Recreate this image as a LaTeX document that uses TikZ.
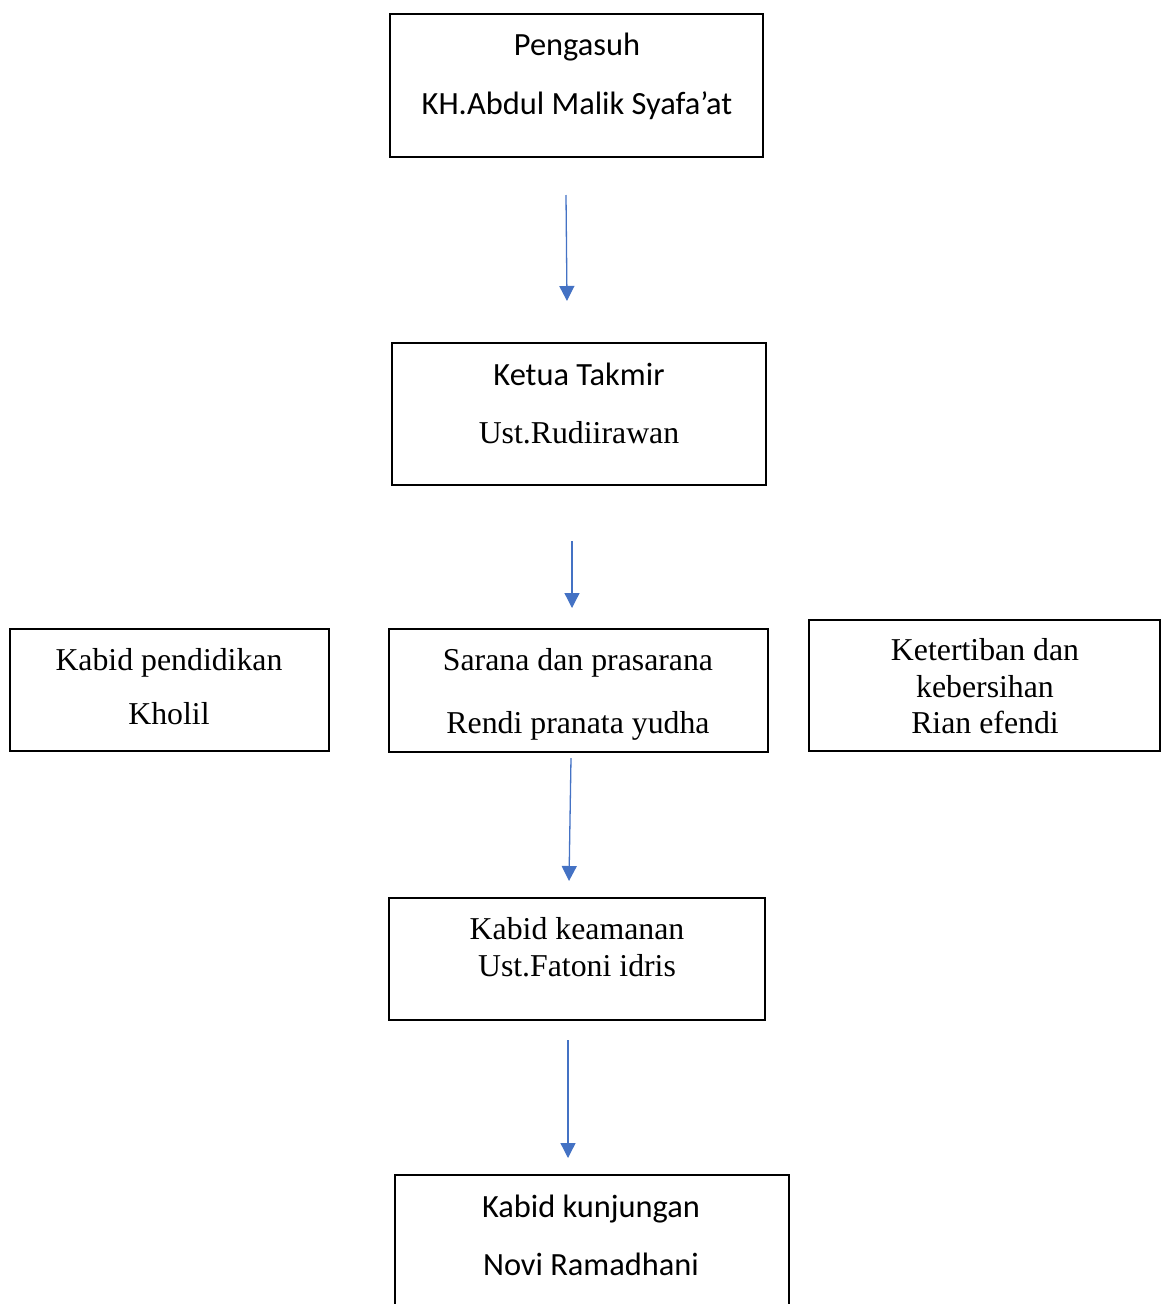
\documentclass[tikz,border=0pt]{standalone}
\usepackage{fontspec}
\setmainfont{Liberation Serif}
\newfontfamily\calfont{Carlito}
\usetikzlibrary{arrows.meta}
\definecolor{arrblue}{HTML}{4472C4}
\begin{document}
\begin{tikzpicture}[x=1pt,y=-1pt,
  box/.style={draw=black,line width=1.1pt},
  tcal/.style={font=\calfont\fontsize{32.4}{36}\selectfont,inner sep=0pt,anchor=base},
  ttim/.style={font=\fontsize{31.8}{36}\selectfont,inner sep=0pt,anchor=base},
  conn/.style={draw=arrblue,line width=1.3pt,-{Triangle[width=15pt,length=15pt]}}]
\useasboundingbox (0,0) rectangle (1162,1304);
\draw[box] (390,14) rectangle (763,157);
\draw[box] (392,343) rectangle (766,485);
\draw[box] (10,629) rectangle (329,751);
\draw[box] (389,629) rectangle (768,752);
\draw[box] (809,620) rectangle (1160,751);
\draw[box] (389,898) rectangle (765,1020);
\draw[box] (395,1175) rectangle (789,1320);
\node[tcal] (t1a) at (577,55) {Pengasuh};
\node[tcal] (t1b) at (577,114) {KH.Abdul Malik Syafa’at};
\node[tcal] (t2a) at (579,385) {Ketua Takmir};
\node[ttim] (t2b) at (579,443) {Ust.Rudiirawan};
\node[ttim] (t3a) at (169,670) {Kabid pendidikan};
\node[ttim] (t3b) at (169,724) {Kholil};
\node[ttim] (t4a) at (578,670) {Sarana dan prasarana};
\node[ttim] (t4b) at (578,733) {Rendi pranata yudha};
\node[ttim] (t5a) at (985,660) {Ketertiban dan};
\node[ttim] (t5b) at (985,697) {kebersihan};
\node[ttim] (t5c) at (985,733) {Rian efendi};
\node[ttim] (t6a) at (577,939) {Kabid keamanan};
\node[ttim] (t6b) at (577,976) {Ust.Fatoni idris};
\node[tcal] (t7a) at (591,1217) {Kabid kunjungan};
\node[tcal] (t7b) at (591,1275) {Novi Ramadhani};
\coordinate (a1s) at (566,195); \coordinate (a1e) at (567,301);
\coordinate (a2s) at (572,541); \coordinate (a2e) at (572,608);
\coordinate (a3s) at (571,758); \coordinate (a3e) at (569,881);
\coordinate (a4s) at (568,1040); \coordinate (a4e) at (568,1158);
\draw[conn] (a1s) -- (a1e);
\draw[conn] (a2s) -- (a2e);
\draw[conn] (a3s) -- (a3e);
\draw[conn] (a4s) -- (a4e);
\end{tikzpicture}
\end{document}
